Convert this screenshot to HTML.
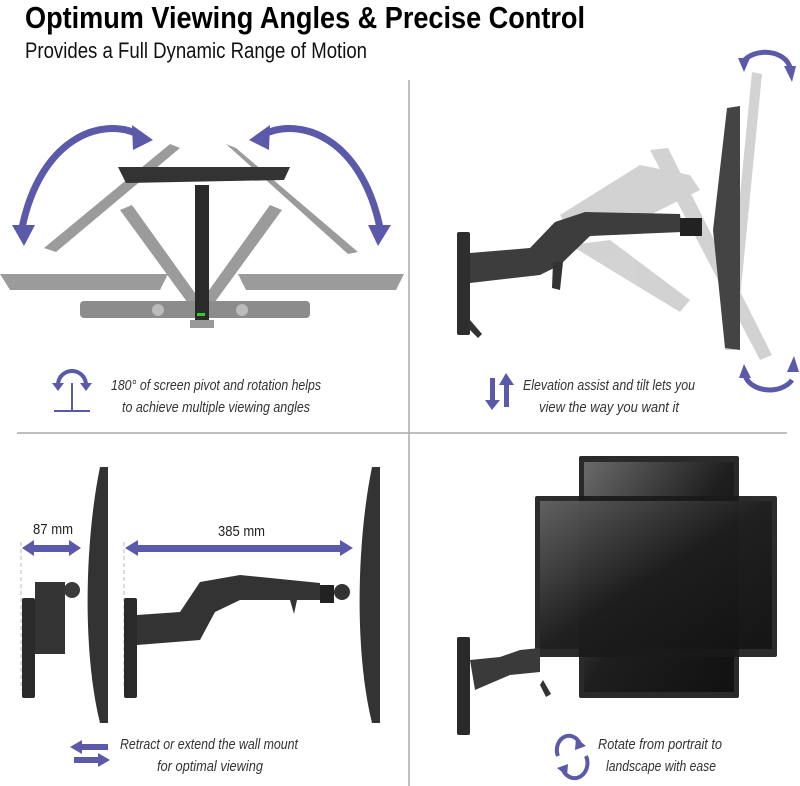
<!DOCTYPE html>
<html><head><meta charset="utf-8"><style>
html,body{margin:0;padding:0;background:#fff;}
svg{display:block;}
</style></head><body>
<svg width="800" height="786" viewBox="0 0 800 786" xmlns="http://www.w3.org/2000/svg">
<defs>
<linearGradient id="mg" x1="0" y1="0" x2="1" y2="1"><stop offset="0" stop-color="#6a6a6a"/><stop offset="0.5" stop-color="#1e1e1e"/><stop offset="1" stop-color="#111"/></linearGradient>
<linearGradient id="lg" x1="0" y1="0" x2="1" y2="0"><stop offset="0" stop-color="#888"/><stop offset="1" stop-color="#555"/></linearGradient>
</defs>
<rect width="800" height="786" fill="#fff"/>
<!-- titles -->
<text x="25" y="28" font-family="Liberation Sans, sans-serif" font-weight="bold" font-size="31" textLength="560" lengthAdjust="spacingAndGlyphs" fill="#000">Optimum Viewing Angles &amp; Precise Control</text>
<text x="25" y="58" font-family="Liberation Sans, sans-serif" font-size="22" textLength="342" lengthAdjust="spacingAndGlyphs" fill="#111">Provides a Full Dynamic Range of Motion</text>
<!-- dividers -->
<line x1="409" y1="80" x2="409" y2="786" stroke="#aaa" stroke-width="1.5"/>
<line x1="17" y1="433" x2="787" y2="433" stroke="#aaa" stroke-width="1.5"/>

<!-- TOP LEFT -->
<g fill="none" stroke="#5b59a9" stroke-width="7" stroke-linecap="butt">
<path d="M140,135 C100,115 40,140 22,228"/>
<path d="M262,135 C302,115 362,140 380,228"/>
</g>
<g fill="#5b59a9">
<polygon points="132,125 153,140 133,150"/>
<polygon points="12,225 35,225 24,246"/>
<polygon points="270,125 249,140 269,150"/>
<polygon points="368,225 391,225 378,246"/>
</g>
<g fill="#8a8a8a" opacity="0.85">
<polygon points="170,144 180,148 56,252 44,248"/>
<polygon points="226,144 236,148 358,252 348,254"/>
<polygon points="0,274 168,274 160,290 10,290"/>
<polygon points="238,274 404,274 396,290 246,290"/>
<polygon points="120,210 132,205 200,300 190,306"/>
<polygon points="270,205 282,210 212,306 202,300"/>
</g>
<rect x="80" y="301" width="230" height="17" rx="4" fill="#8c8c8c"/>
<circle cx="158" cy="310" r="6" fill="#bbb"/><circle cx="242" cy="310" r="6" fill="#bbb"/>
<polygon points="118,167 290,167 284,180 126,183" fill="#333"/>
<rect x="195" y="185" width="14" height="138" fill="#2a2a2a"/>
<rect x="190" y="320" width="24" height="8" fill="#999"/>
<rect x="197" y="313" width="8" height="3" fill="#3c3"/>
<!-- icon top-left -->
<path d="M58,385 A14,14 0 0 1 86,385" fill="none" stroke="#5b59a9" stroke-width="4"/>
<polygon points="52,383 64,383 58,391" fill="#5b59a9"/><polygon points="80,383 92,383 86,391" fill="#5b59a9"/>
<line x1="72" y1="383" x2="72" y2="411" stroke="#5b59a9" stroke-width="2"/>
<line x1="54" y1="411" x2="90" y2="411" stroke="#5b59a9" stroke-width="2"/>
<g font-family="Liberation Sans, sans-serif" font-style="italic" font-size="15" fill="#333" text-anchor="middle">
<text x="216" y="390" textLength="210" lengthAdjust="spacingAndGlyphs">180° of screen pivot and rotation helps</text>
<text x="216" y="412" textLength="188" lengthAdjust="spacingAndGlyphs">to achieve multiple viewing angles</text>
<text x="609" y="390" textLength="172" lengthAdjust="spacingAndGlyphs">Elevation assist and tilt lets you</text>
<text x="609" y="412" textLength="140" lengthAdjust="spacingAndGlyphs">view the way you want it</text>
<text x="209" y="749" textLength="178" lengthAdjust="spacingAndGlyphs">Retract or extend the wall mount</text>
<text x="210" y="771" textLength="106" lengthAdjust="spacingAndGlyphs">for optimal viewing</text>
<text x="660" y="749" textLength="124" lengthAdjust="spacingAndGlyphs">Rotate from portrait to</text>
<text x="661" y="771" textLength="110" lengthAdjust="spacingAndGlyphs">landscape with ease</text>
</g>

<!-- TOP RIGHT -->
<g fill="#b5b5b5" opacity="0.6">
<polygon points="752,72 762,74 735,350 725,350"/>
<polygon points="650,150 668,148 772,355 760,360"/>
<polygon points="560,215 640,165 690,175 700,190 620,230 575,240"/>
<polygon points="570,245 610,240 690,300 680,312"/>
</g>
<polygon points="727,108 740,106 740,350 725,348 713,230" fill="#444"/>
<rect x="457" y="232" width="13" height="103" rx="2" fill="#2e2e2e"/>
<polygon points="470,253 530,248 555,222 585,212 680,214 682,232 590,236 560,265 540,275 470,283" fill="#3d3d3d"/>
<rect x="680" y="218" width="22" height="18" fill="#222"/>
<polygon points="553,262 563,262 560,290 552,288" fill="#333"/>
<path d="M470,320 l12,14 -4,4 -10,-10z" fill="#333"/>
<!-- rotate arrows top-right -->
<path d="M743,62 A25,18 0 0 1 790,68" fill="none" stroke="#5b59a9" stroke-width="5"/>
<polygon points="738,58 750,58 744,72" fill="#5b59a9"/><polygon points="784,66 796,66 792,82" fill="#5b59a9"/>
<path d="M745,375 A25,18 0 0 0 792,380" fill="none" stroke="#5b59a9" stroke-width="5"/>
<polygon points="739,378 751,378 744,364" fill="#5b59a9"/><polygon points="787,372 799,372 794,356" fill="#5b59a9"/>
<!-- up/down icon -->
<rect x="490" y="378" width="5" height="24" fill="#5b59a9"/><polygon points="485,400 500,400 492,410" fill="#5b59a9"/>
<rect x="504" y="383" width="5" height="24" fill="#5b59a9"/><polygon points="499,385 514,385 506,373" fill="#5b59a9"/>

<!-- BOTTOM LEFT -->
<path d="M100,467 C85,540 82,650 100,723 L108,723 L108,467Z" fill="#333"/>
<path d="M372,467 C357,540 354,650 372,723 L380,723 L380,467Z" fill="#333"/>
<line x1="21" y1="542" x2="21" y2="690" stroke="#bbb" stroke-dasharray="4,3"/>
<line x1="124" y1="542" x2="124" y2="690" stroke="#bbb" stroke-dasharray="4,3"/>
<g fill="#5b59a9">
<rect x="30" y="545" width="42" height="7"/><polygon points="22,548 34,540 34,556"/><polygon points="81,548 69,540 69,556"/>
<rect x="134" y="545" width="210" height="7"/><polygon points="125,548 138,540 138,556"/><polygon points="353,548 340,540 340,556"/>
</g>
<g font-family="Liberation Sans, sans-serif" font-size="15" fill="#222">
<text x="33" y="534" textLength="40" lengthAdjust="spacingAndGlyphs">87 mm</text>
<text x="218" y="536" textLength="47" lengthAdjust="spacingAndGlyphs">385 mm</text>
</g>
<rect x="22" y="598" width="13" height="100" rx="2" fill="#2a2a2a"/>
<rect x="35" y="582" width="30" height="72" fill="#333"/>
<circle cx="72" cy="590" r="8" fill="#3a3a3a"/>
<rect x="124" y="598" width="13" height="100" rx="2" fill="#2a2a2a"/>
<polygon points="137,615 180,612 200,582 240,575 320,583 320,600 240,600 215,612 200,640 137,645" fill="#333"/>
<rect x="320" y="585" width="14" height="18" fill="#222"/><circle cx="342" cy="592" r="8" fill="#333"/>
<polygon points="290,600 297,600 294,614" fill="#333"/>
<!-- bottom-left icon -->
<g fill="#5b59a9"><rect x="80" y="744" width="28" height="6"/><polygon points="70,747 82,740 82,754"/>
<rect x="74" y="757" width="28" height="6"/><polygon points="110,760 98,753 98,767"/></g>

<!-- BOTTOM RIGHT -->
<rect x="579" y="456" width="160" height="242" rx="2" fill="#2a2a2a"/>
<rect x="584" y="462" width="150" height="230" fill="url(#mg)"/>
<rect x="535" y="496" width="242" height="161" rx="2" fill="#1a1a1a" opacity="0.92"/>
<rect x="540" y="501" width="232" height="148" fill="url(#mg)" opacity="0.85"/>
<rect x="457" y="637" width="13" height="98" rx="2" fill="#2a2a2a"/>
<polygon points="470,660 500,657 520,650 540,648 540,672 510,675 475,690" fill="#3a3a3a"/>
<path d="M543,680 l8,14 -5,3 -6,-12z" fill="#333"/>
<!-- rotate icon -->
<path d="M558,756 A12,14 0 0 1 580,744" fill="none" stroke="#5b59a9" stroke-width="4"/>
<path d="M586,756 A12,14 0 0 1 563,770" fill="none" stroke="#5b59a9" stroke-width="4"/>
<polygon points="576,738 586,746 575,750" fill="#5b59a9"/>
<polygon points="567,776 557,768 568,764" fill="#5b59a9"/>
</svg>
</body></html>
